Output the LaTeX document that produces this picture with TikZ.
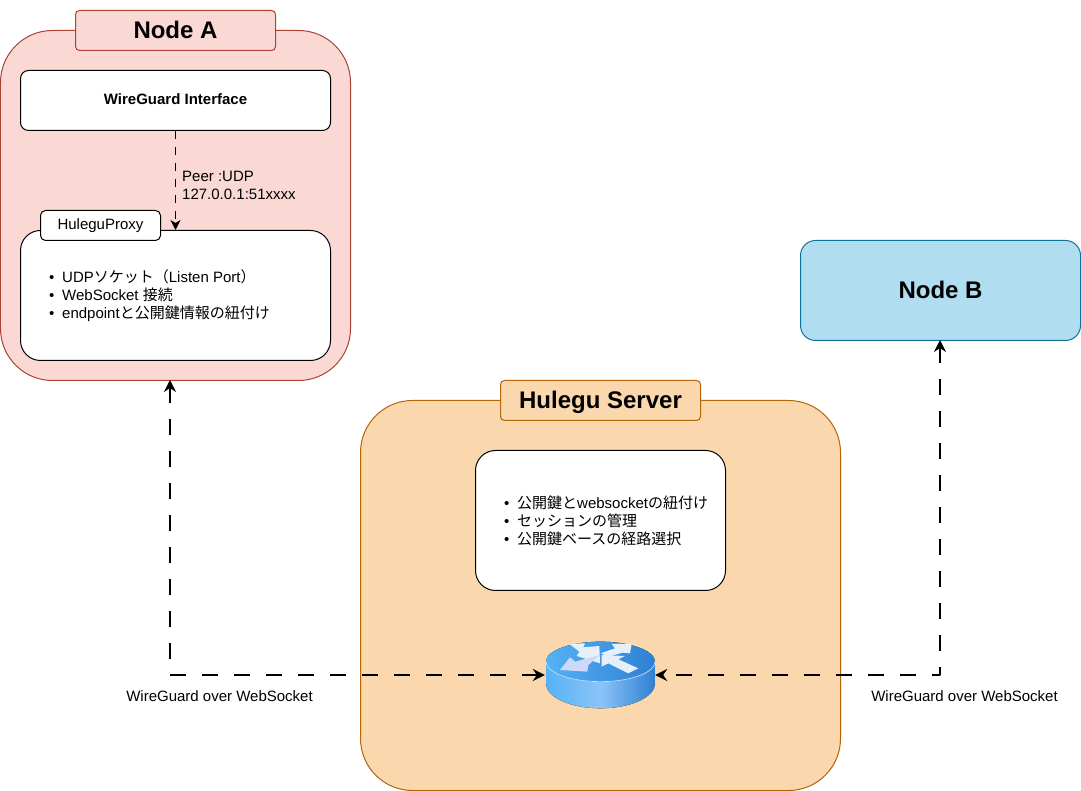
\documentclass[tikz,border=0pt]{standalone}
\usepackage{fontspec}
\setmainfont{Liberation Sans}
\newfontfamily\cjk{Noto Sans CJK JP}
\usetikzlibrary{arrows.meta}
\definecolor{pinkfill}{HTML}{FAD9D5}
\definecolor{pinkline}{HTML}{AE4132}
\definecolor{orangefill}{HTML}{FAD7AC}
\definecolor{orangeline}{HTML}{B46504}
\definecolor{bluefill}{HTML}{B1DDF0}
\definecolor{blueline}{HTML}{10739E}
\definecolor{routerlight}{HTML}{55B2F5}
\definecolor{routerdark}{HTML}{2F80D2}
\definecolor{routermid}{HTML}{8CC4F8}
\definecolor{routerarrow}{HTML}{E6F0FB}
\newcommand{\bul}{\makebox[13bp][l]{\textbullet}}
\tikzset{
  box/.style={draw,line width=1bp,rounded corners=#1,inner sep=0pt},
  box/.default=8bp,
  title/.style={font=\fontsize{24bp}{28bp}\selectfont\bfseries,text depth=1bp},
  small/.style={font=\fontsize{15bp}{18bp}\selectfont,align=left},
  link/.style={{Stealth[length=12bp,width=12bp,inset=4bp]}-{Stealth[length=12bp,width=12bp,inset=4bp]},line width=2bp,dash pattern=on 16bp off 16bp},
  peerlink/.style={-{Stealth[length=10bp,width=10bp,inset=3bp]},line width=1bp,dash pattern=on 8bp off 8bp},
}
\begin{document}
\begin{tikzpicture}[line join=bevel]
\useasboundingbox (0bp,0bp) rectangle (1081bp,791bp);
%%
\node (nodeA) at (175.5bp,585.5bp) [box=52bp,fill=pinkfill,draw=pinkline,minimum width=350bp,minimum height=350bp] {};
  \node (titleA) at (175.5bp,760.5bp) [box=4bp,fill=pinkfill,draw=pinkline,minimum width=200bp,minimum height=40bp,title] {Node A};
  \node (wg) at (175.5bp,690.5bp) [box,fill=white,minimum width=310bp,minimum height=60bp,font=\fontsize{15bp}{18bp}\selectfont\bfseries,text depth=2bp] {WireGuard Interface};
  \node (proxy) at (175.5bp,495.5bp) [box=20bp,fill=white,minimum width=310bp,minimum height=130bp] {};
  \node (proxytag) at (100.5bp,565.5bp) [box=5bp,fill=white,minimum width=120bp,minimum height=30bp,small] {HuleguProxy};
  \node (proxytext) at (49bp,495bp) [anchor=west,inner sep=0pt,small] {\bul UDP{\cjk ソケット（}Listen Port{\cjk ）}\\\bul WebSocket {\cjk 接続}\\\bul endpoint{\cjk と公開鍵情報の紐付け}};
%
\node (server) at (600.5bp,195.5bp) [box=52bp,fill=orangefill,draw=orangeline,minimum width=480bp,minimum height=390bp] {};
  \node (titleS) at (600.5bp,390.5bp) [box=4bp,fill=orangefill,draw=orangeline,minimum width=200bp,minimum height=40bp,title] {Hulegu Server};
  \node (servbox) at (600.5bp,270.5bp) [box=20bp,fill=white,minimum width=250bp,minimum height=140bp] {};
  \node (servtext) at (504bp,270bp) [anchor=west,inner sep=0pt,small] {\bul{\cjk 公開鍵と}websocket{\cjk の紐付け}\\\bul{\cjk セッションの管理}\\\bul{\cjk 公開鍵ベースの経路選択}};
%
\node (nodeB) at (940.5bp,500.5bp) [box=15bp,fill=bluefill,draw=blueline,minimum width=280bp,minimum height=100bp,title] {Node B};
%
\node (router) at (600bp,116bp) [minimum width=110bp,minimum height=68bp,inner sep=0pt] {};
\coordinate (portA) at (170bp,411bp);
\coordinate (portB) at (940bp,451bp);
\begin{scope}[shift={(530bp,171bp)},x=0.3333bp,y=-0.3333bp]
  \fill [left color=routerlight,right color=routerdark,middle color=routermid] (48,125) -- (48,190) arc [start angle=180,end angle=0,x radius=163.5,y radius=75] -- (375,125) -- cycle;
  \fill [left color=routerlight,right color=routerdark] (211.5,125) ellipse [x radius=163.5,y radius=60];
  \draw [routermid!50!white,line width=0.7bp] (48,125) arc [start angle=180,end angle=0,x radius=163.5,y radius=60];
  \fill [routerarrow] (118,72) -- (165,70) -- (160,82) -- (208,78) -- (210,130) -- (140,108) -- (148,95) -- cycle;
  \fill [routerarrow!90!blue] (90,150) -- (120,112) -- (135,125) -- (210,105) -- (175,135) -- (172,155) -- cycle;
  \fill [routerarrow] (305,72) -- (245,72) -- (255,85) -- (212,100) -- (235,110) -- (278,98) -- (300,100) -- cycle;
  \fill [routerarrow] (215,105) -- (215,140) -- (235,130) -- (295,160) -- (325,145) -- (265,118) -- (285,108) -- cycle;
\end{scope}
%
\draw [peerlink] (wg.south) -- (proxy.north);
  \node (peer) at (182bp,605.5bp) [anchor=west,inner sep=0pt,small] {Peer :UDP\\127.0.0.1:51xxxx};
\draw [link] (portA) |- (router.west);
  \node (labelA) at (219.5bp,95bp) [small] {WireGuard over WebSocket};
\draw [link] (portB) |- (router.east);
  \node (labelB) at (964.5bp,95bp) [small] {WireGuard over WebSocket};
%
\end{tikzpicture}
\end{document}
